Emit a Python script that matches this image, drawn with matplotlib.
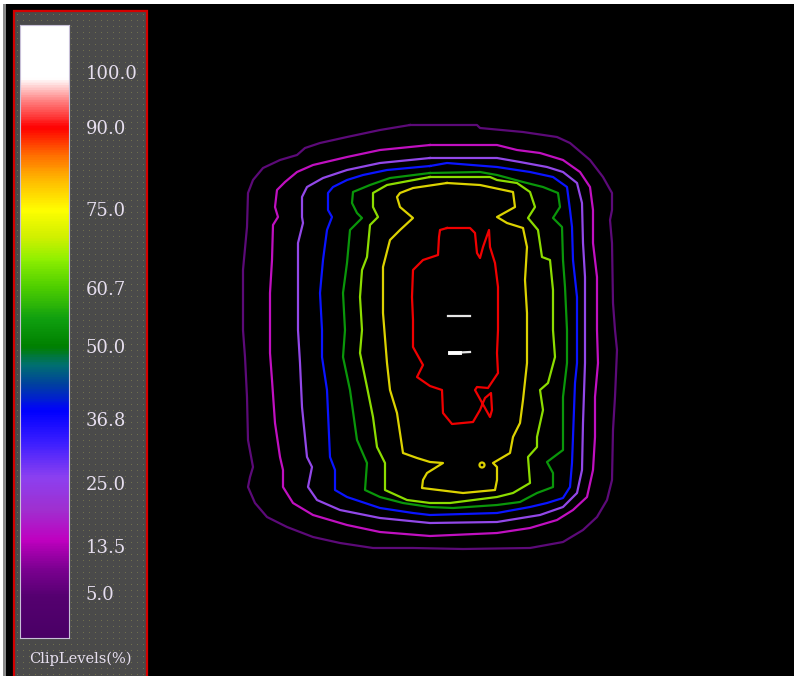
import numpy as np
import matplotlib
matplotlib.use("Agg")
import matplotlib.pyplot as plt
from matplotlib.patches import Rectangle, Circle
from matplotlib.colors import LinearSegmentedColormap, Normalize

# isodose levels (% of max dose) and the colour used for each line
LEVELS = [5.0, 13.5, 25.0, 36.8, 50.0, 60.7, 75.0, 90.0, 100.0]
LEVEL_COLORS = ["#5c0a78", "#c010c0", "#9248e8", "#0a14ff", "#0a960a",
                "#8cdc00", "#dcd200", "#f00000", "#e6e6e6"]

# isodose outlines on the dose plane grid (x, y), y grows downward
ISO_5 = [(410, 125), (477, 125), (480, 128), (523, 132), (557, 137), (570, 143),
         (590, 160), (603, 177), (612, 193), (612, 210), (610, 220), (612, 243),
         (613, 303), (615, 330), (617, 350), (615, 397), (613, 430), (612, 480),
         (607, 500), (597, 517), (583, 530), (563, 542), (530, 548), (463, 549),
         (413, 548), (373, 548), (340, 543), (313, 537), (287, 527), (267, 517),
         (255, 503), (248, 487), (250, 477), (253, 467), (248, 440), (247, 397),
         (245, 357), (243, 330), (243, 270), (247, 227), (248, 193), (253, 180),
         (263, 168), (280, 160), (297, 155), (305, 148), (320, 143), (347, 137),
         (380, 130)]
ISO_13 = [(430, 145), (497, 145), (517, 150), (540, 153), (563, 160), (580, 172),
          (590, 187), (593, 210), (593, 243), (597, 277), (597, 330), (598, 363),
          (595, 397), (595, 437), (593, 470), (587, 497), (573, 510), (557, 520),
          (530, 528), (497, 533), (430, 536), (380, 532), (347, 525), (313, 515),
          (293, 503), (283, 487), (283, 470), (280, 457), (275, 423), (272, 380),
          (270, 353), (270, 330), (270, 293), (272, 260), (273, 225), (278, 217),
          (275, 207), (277, 190), (285, 182), (297, 172), (313, 165), (347, 157),
          (380, 150)]
ISO_25 = [(430, 158), (497, 158), (520, 162), (547, 167), (563, 172), (577, 183),
          (582, 203), (583, 243), (585, 277), (585, 330), (585, 363), (583, 423),
          (582, 470), (577, 493), (563, 507), (540, 515), (497, 522), (430, 523),
          (380, 518), (340, 510), (317, 500), (308, 487), (312, 467), (307, 457),
          (302, 407), (300, 363), (298, 330), (298, 277), (298, 243), (303, 223),
          (302, 217), (302, 197), (307, 187), (323, 178), (347, 170), (380, 163)]
ISO_37 = [(430, 166), (447, 163), (497, 167), (530, 172), (553, 177), (567, 187),
          (570, 210), (572, 227), (573, 260), (577, 297), (577, 330), (577, 363),
          (575, 383), (573, 437), (572, 463), (570, 487), (563, 498), (547, 503),
          (530, 507), (497, 513), (430, 515), (413, 513), (380, 508), (347, 497),
          (335, 490), (335, 470), (330, 457), (327, 390), (322, 357), (322, 330),
          (320, 293), (323, 260), (327, 230), (332, 217), (328, 210), (328, 193),
          (333, 187), (347, 180), (363, 175), (387, 170)]
ISO_50 = [(430, 173), (480, 172), (497, 175), (523, 182), (543, 187), (558, 193),
          (560, 207), (553, 218), (562, 227), (563, 260), (565, 287), (567, 330),
          (567, 363), (563, 397), (563, 450), (547, 462), (553, 473), (553, 487),
          (537, 493), (520, 502), (497, 505), (453, 508), (430, 507), (403, 503),
          (380, 497), (365, 490), (367, 463), (357, 440), (350, 390), (343, 357),
          (345, 330), (343, 293), (347, 263), (350, 230), (362, 218), (357, 213),
          (352, 203), (353, 192), (370, 185), (390, 178)]
ISO_61 = [(430, 177), (490, 177), (497, 180), (517, 183), (530, 192), (535, 207),
          (528, 218), (538, 230), (542, 257), (550, 260), (553, 290), (553, 330),
          (555, 357), (548, 383), (540, 390), (543, 410), (537, 437), (537, 447),
          (528, 457), (530, 483), (513, 493), (497, 497), (450, 503), (430, 503),
          (407, 500), (385, 490), (385, 463), (377, 447), (373, 417), (367, 387),
          (360, 353), (362, 330), (360, 297), (362, 270), (367, 257), (370, 225),
          (378, 217), (373, 207), (373, 193), (387, 185), (403, 182)]
ISO_75 = [(447, 183), (480, 185), (513, 192), (515, 207), (497, 217), (507, 223),
          (523, 228), (527, 247), (525, 280), (527, 313), (527, 363), (523, 400),
          (520, 423), (513, 437), (510, 453), (493, 463), (497, 467), (497, 480),
          (495, 490), (463, 493), (422, 488), (423, 480), (427, 473), (443, 463),
          (430, 462), (417, 458), (403, 453), (397, 413), (390, 390), (387, 363),
          (383, 313), (383, 267), (390, 240), (400, 230), (413, 218), (400, 207),
          (397, 197), (400, 193), (413, 188)]
ISO_75_ISLAND = (482, 465, 2.5)
ISO_90 = [(447, 228), (470, 228), (475, 233), (477, 253), (480, 258), (483, 247),
          (489, 230), (490, 247), (495, 263), (498, 287), (498, 330), (497, 353),
          (498, 373), (492, 382), (488, 388), (477, 387), (475, 390), (490, 417),
          (492, 410), (491, 393), (485, 398), (480, 410), (473, 422), (452, 424),
          (443, 413), (442, 390), (430, 386), (417, 377), (423, 365), (413, 347),
          (413, 320), (412, 297), (413, 270), (423, 260), (438, 255), (439, 237),
          (440, 230)]
ISO_100 = [[(448, 316), (470, 316)], [(450, 353), (470, 352)]]

CLOSED_LINES = [ISO_5, ISO_13, ISO_25, ISO_37, ISO_50, ISO_61, ISO_75, ISO_90]

# colour scale shown in the side panel
CB_MIN, CB_MAX = -3.2, 108.6
CB_STOPS = [-3.2, 4, 9, 14.5, 20, 26, 32, 38, 43, 46.5, 50, 55, 61, 66, 70,
            75, 80, 85, 90, 95, 99, 108.6]
CB_COLORS = ["#4a0066", "#550070", "#7a0090", "#c000c0", "#a030d0", "#8c40f0",
             "#4020ff", "#0000ff", "#0040a0", "#007070", "#008000", "#10a010",
             "#50d000", "#90f000", "#d0f000", "#ffff00", "#ffc000", "#ff7000",
             "#ff0000", "#ff8080", "#ffffff", "#ffffff"]

TEXT_COLOR = "#e6deee"
SERIF = ["DejaVu Serif"]

fig = plt.figure(figsize=(7.94, 6.76), dpi=100, facecolor="black")
ax = fig.add_axes([0, 0, 1, 1])
ax.set_xlim(0, 794)
ax.set_ylim(676, 0)
ax.axis("off")

# window frame
ax.add_patch(Rectangle((0, 0), 794, 4, color="white", lw=0))
ax.add_patch(Rectangle((0, 0), 3, 676, color="white", lw=0))
ax.add_patch(Rectangle((3, 4), 3, 672, color="#8a8a8a", lw=0))

# legend panel with dotted texture
ax.add_patch(Rectangle((14, 11), 133, 700, facecolor="#4a4a4a",
                       edgecolor="#d40000", lw=1.6))
gx, gy = np.meshgrid(np.arange(17, 146, 6), np.arange(15, 676, 6))
ax.plot(gx.ravel(), gy.ravel(), ",", color="#70704e")

# isodose lines
for pts, col in zip(CLOSED_LINES, LEVEL_COLORS):
    arr = np.array(pts + [pts[0]])
    ax.plot(arr[:, 0], arr[:, 1], color=col, lw=1.6)
cx, cy, r = ISO_75_ISLAND
ax.add_patch(Circle((cx, cy), r, fill=False, edgecolor=LEVEL_COLORS[6], lw=1.6))
for seg in ISO_100:
    arr = np.array(seg)
    ax.plot(arr[:, 0], arr[:, 1], color=LEVEL_COLORS[8], lw=1.6)
ax.plot([450, 460], [353, 353], color="white", lw=2.8)

ax.text(80, 659, "ClipLevels(%)", ha="center", va="center", color=TEXT_COLOR,
        fontsize=10.5, family=SERIF)

# colour bar
cmap = LinearSegmentedColormap.from_list(
    "clip", list(zip([(v - CB_MIN) / (CB_MAX - CB_MIN) for v in CB_STOPS], CB_COLORS)))
cax = fig.add_axes([20 / 794, 38 / 676, 49 / 794, 613 / 676])
grad = np.linspace(CB_MIN, CB_MAX, 500)[:, None]
cax.imshow(grad, aspect="auto", cmap=cmap, norm=Normalize(CB_MIN, CB_MAX),
           origin="lower", extent=[0, 1, CB_MIN, CB_MAX])
cax.set_ylim(CB_MIN, CB_MAX)
cax.set_xticks([])
cax.yaxis.tick_right()
cax.set_yticks(LEVELS)
cax.set_yticklabels([f"{v:.1f}" for v in LEVELS], family=SERIF)
cax.tick_params(axis="y", length=0, pad=12, labelcolor=TEXT_COLOR, labelsize=13)
for sp in cax.spines.values():
    sp.set_color("#c8c0d8")
    sp.set_linewidth(0.8)

fig.savefig("out.png", dpi=100, facecolor="black")
